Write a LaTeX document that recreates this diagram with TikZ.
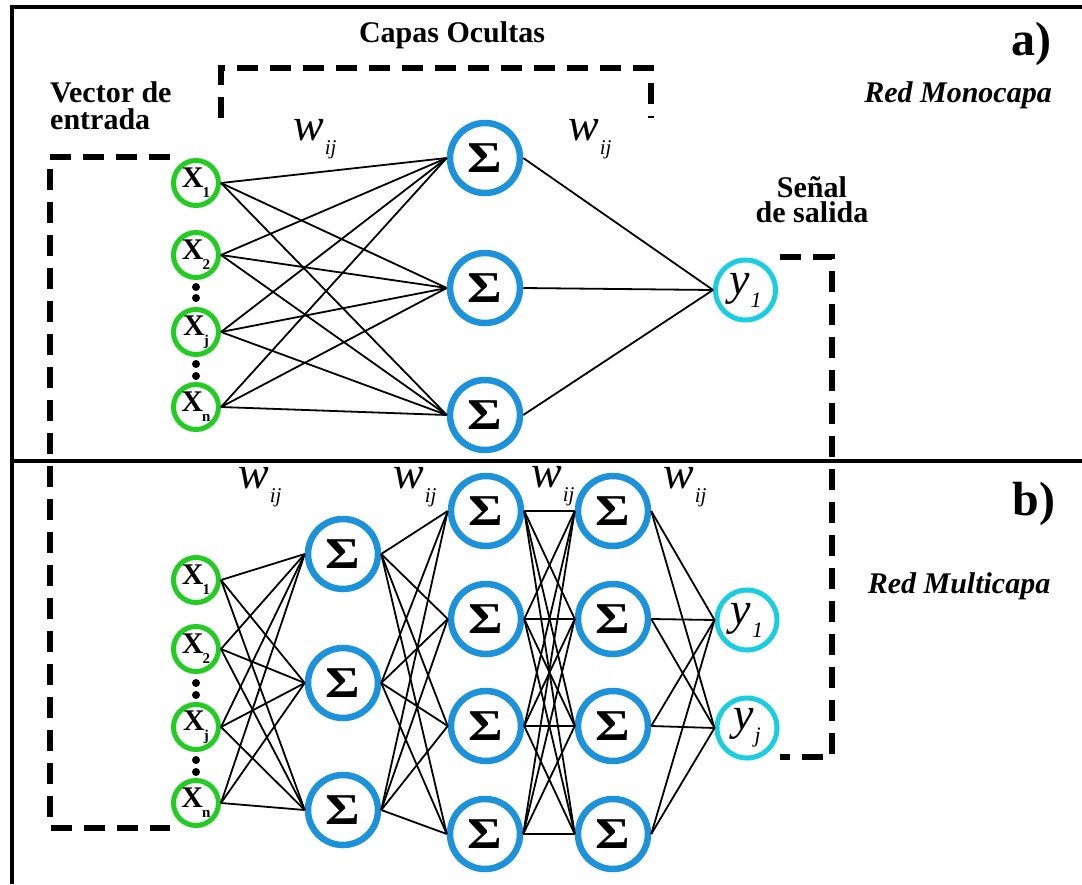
\documentclass[tikz,border=0pt]{standalone}
\usepackage{fontspec}
\setmainfont{Liberation Serif}
\definecolor{ingreen}{RGB}{34,204,34}
\definecolor{sigblue}{RGB}{27,146,218}
\definecolor{outcyan}{RGB}{26,206,226}
% neuron labels
\newcommand\xsub[1]{X\kern-1pt\raisebox{-10pt}{\fontsize{15}{15}\selectfont #1}}
\newcommand\ysub[1]{y\kern1pt\raisebox{-13pt}{\fontsize{22}{22}\selectfont #1}}
\newcommand\sumsym{\scalebox{1.2}[1]{Σ}}
\newcommand\wij{{\fontsize{46}{46}\selectfont w}\kern1pt\raisebox{-14pt}{\fontsize{21}{21}\selectfont ij}}
\begin{document}
\begin{tikzpicture}[x=1pt,y=-1pt,
  inp/.style={circle,draw=ingreen,line width=5pt,minimum size=45pt,inner sep=0pt,
    font=\fontsize{30}{30}\selectfont\bfseries},
  sig/.style={circle,draw=sigblue,line width=6.5pt,minimum size=70pt,inner sep=0pt,
    font=\fontsize{44}{44}\selectfont\bfseries},
  outp/.style={circle,draw=outcyan,line width=5pt,minimum size=60pt,inner sep=0pt,
    font=\fontsize{46}{46}\selectfont\itshape},
  wire/.style={line width=1.8pt,black},
  frame/.style={line width=4pt,black},
  bracket/.style={line width=6pt,black,dash pattern=on 21pt off 12pt},
  head/.style={inner sep=0pt,font=\fontsize{30}{27}\selectfont\bfseries},
  tag/.style={inner sep=0pt,font=\fontsize{48}{48}\selectfont\bfseries},
  netname/.style={inner sep=0pt,font=\fontsize{30}{30}\selectfont\bfseries\itshape},
  wlab/.style={inner sep=0pt,anchor=base west,font=\itshape},
  vdot/.style={circle,fill=black,inner sep=0pt,minimum size=8pt}]
\useasboundingbox (0,0) rectangle (1082,884);

% outer frame and panel divider
\draw[frame] (1082,6.5) -- (11.5,6.5) -- (11.5,884);
\draw[frame] (11.5,461) -- (1082,461);

% ---------- a) single layer network ----------
\node[inp] (ax1) at (196,183) {\xsub{1}};
\node[inp] (ax2) at (196,255) {\xsub{2}};
\node[inp] (ax3) at (196,332) {\xsub{j}};
\node[inp] (ax4) at (196,407) {\xsub{n}};
\node[vdot] (ad1) at (196,287) {};
\node[vdot] (ad2) at (196,298) {};
\node[vdot] (ad3) at (196,364) {};
\node[vdot] (ad4) at (196,376) {};

\node[sig] (as1) at (485,158) {\sumsym};
\node[sig] (as2) at (485,288) {\sumsym};
\node[sig] (as3) at (485,415) {\sumsym};

\node[outp] (ay1) at (745.5,290) {\ysub{1}};

\foreach \i in {1,...,4}
  \foreach \j in {1,2,3}
    \draw[wire] (ax\i.east) -- (as\j.west);
\foreach \j in {1,2,3}
  \draw[wire] (as\j.east) -- (ay1.west);

\node[wlab] (aw1) at (293,140) {\wij};
\node[wlab] (aw2) at (568,140) {\wij};

% ---------- b) multilayer network ----------
\node[inp] (bx1) at (196,580) {\xsub{1}};
\node[inp] (bx2) at (196,649) {\xsub{2}};
\node[inp] (bx3) at (196,727) {\xsub{j}};
\node[inp] (bx4) at (196,803) {\xsub{n}};
\node[vdot] (bd1) at (196,683) {};
\node[vdot] (bd2) at (196,695) {};
\node[vdot] (bd3) at (196,760) {};
\node[vdot] (bd4) at (196,772) {};

\node[sig] (bp1) at (343,554) {\sumsym};
\node[sig] (bp2) at (343,683) {\sumsym};
\node[sig] (bp3) at (343,810) {\sumsym};

\node[sig] (bq1) at (486,511) {\sumsym};
\node[sig] (bq2) at (486,619) {\sumsym};
\node[sig] (bq3) at (486,726) {\sumsym};
\node[sig] (bq4) at (485,834) {\sumsym};

\node[sig] (br1) at (613,511) {\sumsym};
\node[sig] (br2) at (613,619) {\sumsym};
\node[sig] (br3) at (613,726) {\sumsym};
\node[sig] (br4) at (613,834) {\sumsym};

\node[outp] (by1) at (747,620) {\ysub{1}};
\node[outp] (by2) at (747,728) {\ysub{j}};

\foreach \i in {1,...,4}
  \foreach \j in {1,2,3}
    \draw[wire] (bx\i.east) -- (bp\j.west);
\foreach \i in {1,2,3}
  \foreach \j in {1,...,4}
    \draw[wire] (bp\i.east) -- (bq\j.west);
\foreach \i in {1,...,4}
  \foreach \j in {1,...,4}
    \draw[wire] (bq\i.east) -- (br\j.west);
\foreach \i in {1,...,4}
  \foreach \j in {1,2}
    \draw[wire] (br\i.east) -- (by\j.west);

\node[wlab] (bw1) at (238,488) {\wij};
\node[wlab] (bw2) at (393,488) {\wij};
\node[wlab] (bw3) at (531,487) {\wij};
\node[wlab] (bw4) at (663,488) {\wij};

% ---------- group brackets ----------
\coordinate (vin1) at (170,157);
\coordinate (vin2) at (50,157);
\coordinate (vin3) at (50,828);
\coordinate (vin4) at (170,828);
\draw[bracket] (vin1) -- (vin2) -- (vin3) -- (vin4);

\coordinate (hid1) at (221,118);
\coordinate (hid2) at (221,68);
\coordinate (hid3) at (651,68);
\coordinate (hid4) at (651,118);
\draw[bracket] (hid1) -- (hid2) -- (hid3) -- (hid4);

\coordinate (out1) at (780,257);
\coordinate (out2) at (832,257);
\coordinate (out3) at (832,757);
\coordinate (out4) at (780,757);
\draw[bracket] (out1) -- (out2) -- (out3) -- (out4);

% ---------- labels (base = baseline of the last line) ----------
\node[head,anchor=base] (capas) at (452,42) {Capas Ocultas};
\node[head,anchor=base west,align=left] (vec) at (50,129) {Vector de\\entrada};
\node[head,anchor=base,align=center,font=\fontsize{30}{25}\selectfont\bfseries] (senal) at (812,222) {Señal\\de salida};
\node[tag,anchor=base] (tagA) at (1031,55) {a)};
\node[tag,anchor=base] (tagB) at (1034,515) {b)};
\node[netname,anchor=base] (mono) at (958,102) {Red Monocapa};
\node[netname,anchor=base] (multi) at (959,593) {Red Multicapa};
\end{tikzpicture}
\end{document}
